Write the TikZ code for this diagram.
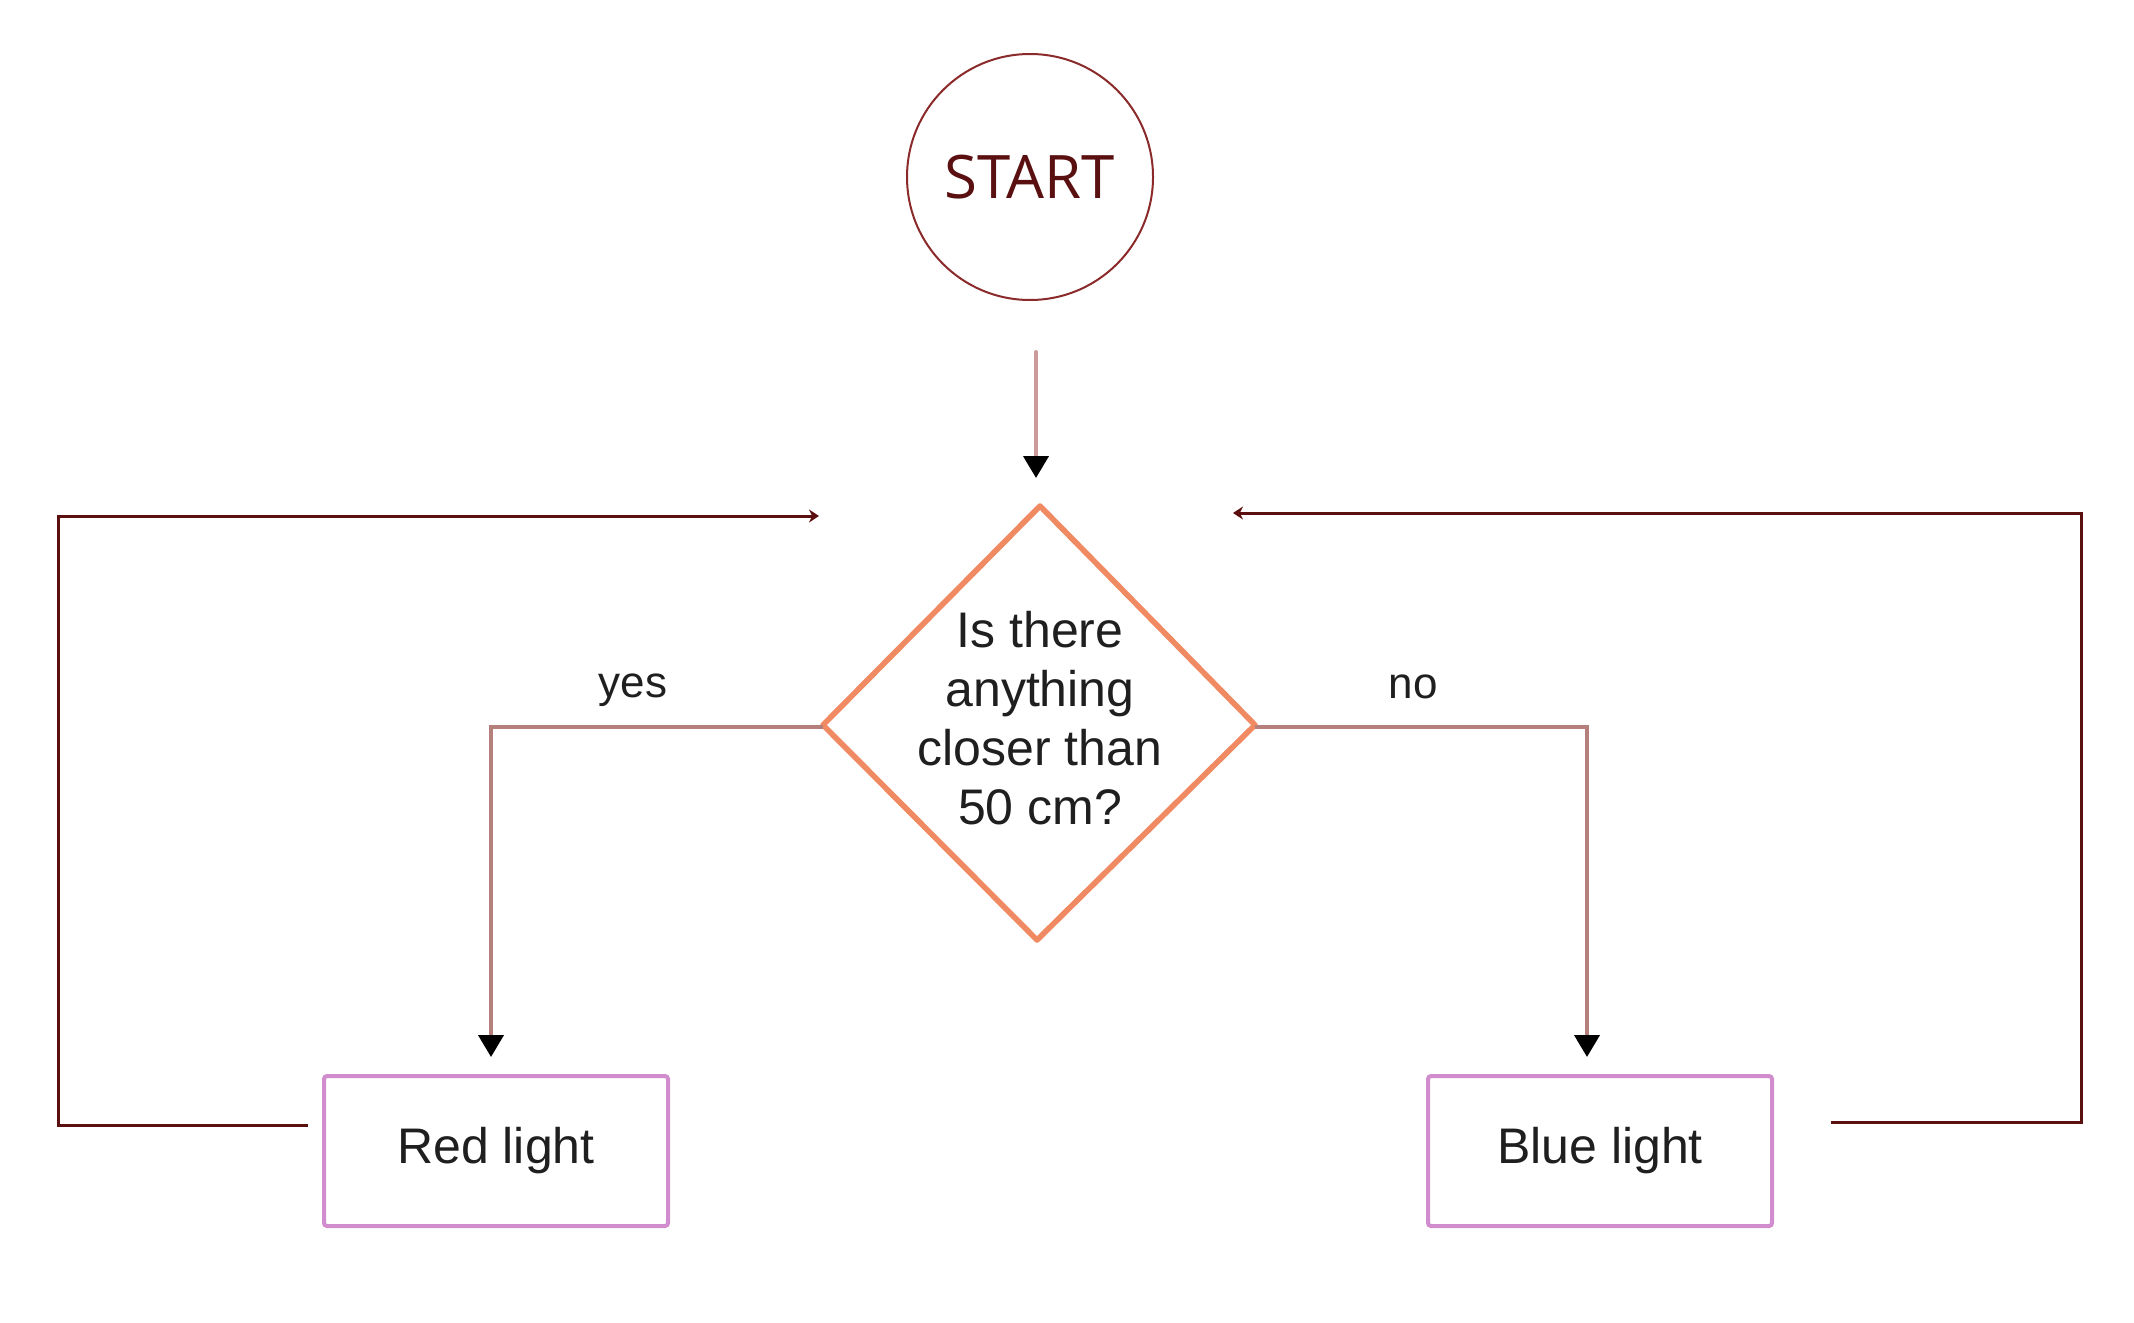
\documentclass[tikz,border=0pt]{standalone}
\usepackage{fontspec}
\setmainfont{Liberation Sans}
\newfontfamily\startfont{Open Sans}
\usetikzlibrary{arrows.meta}
\definecolor{circ}{HTML}{8B2A2A}
\definecolor{starttxt}{HTML}{5A1010}
\definecolor{loopc}{HTML}{5C0F0F}
\definecolor{branchc}{HTML}{B5807C}
\definecolor{startln}{HTML}{CC9A9A}
\definecolor{boxc}{HTML}{D08CCC}
\definecolor{diamc}{HTML}{EF8A62}
\definecolor{txt}{HTML}{1F1F1F}
\tikzset{
  startnode/.style={circle, draw=circ, line width=1pt, minimum size=123pt, inner sep=0pt,
    font=\startfont\fontsize{30}{36}\selectfont, text=starttxt},
  lightbox/.style={rectangle, rounded corners=1.5pt, draw=boxc, line width=2pt,
    minimum width=172pt, minimum height=75pt, inner sep=0pt,
    font=\fontsize{25}{30}\selectfont, text=txt},
  qtext/.style={align=center, inner sep=0pt, font=\fontsize{25}{29.5}\selectfont, text=txt},
  diam/.style={draw=diamc, line width=2.8pt, line join=round},
  lbl/.style={inner sep=0pt, font=\fontsize{22}{26}\selectfont, text=txt},
  blackhead/.style={-{Triangle[width=12.5pt,length=11pt,color=black]}},
  startarrow/.style={blackhead, draw=startln, line width=2pt, line cap=round},
  branch/.style={blackhead, draw=branchc, line width=2pt},
  loopline/.style={-{Stealth[width=6.5pt,length=5pt]}, draw=loopc, line width=1.5pt},
}
\begin{document}
\begin{tikzpicture}[x=0.5pt, y=-0.5pt]
\useasboundingbox (0,0) rectangle (2134,1322);
% nodes
\node[startnode] (start) at (1030,177) {START};
\coordinate (qt) at (1040,506);
\coordinate (qr) at (1255,725);
\coordinate (qb) at (1037,940);
\coordinate (ql) at (823,725);
\draw[diam] (qt) -- (qr) -- (qb) -- (ql) -- cycle;
\node[qtext] (q) at (1040,718) {Is there\\anything\\closer than\\50 cm?};
\node[lightbox] (red) at (496,1151) {\raisebox{-2pt}{Red light}};
\node[lightbox] (blue) at (1600,1151) {\raisebox{-2pt}{Blue light}};
\node[lbl] (yes) at (633,690) {yes};
\node[lbl] (no) at (1413,687) {no};
% start arrow
\coordinate (s0) at (1036,352);
\coordinate (s1) at (1036,478);
\draw[startarrow] (s0) -- (s1);
% branches
\coordinate (yc) at (491,727);
\coordinate (ytip) at (491,1057);
\coordinate (qlb) at (823,727);
\draw[branch] (qlb) -- (yc) -- (ytip);
\coordinate (nc) at (1587,727);
\coordinate (ntip) at (1587,1057);
\coordinate (qrb) at (1255,727);
\draw[branch] (qrb) -- (nc) -- (ntip);
% loops
\coordinate (l0) at (308,1125);
\coordinate (l1) at (58,1125);
\coordinate (l2) at (58,516);
\coordinate (l3) at (819,516);
\draw[loopline] (l0) -- (l1) -- (l2) -- (l3);
\coordinate (r0) at (1831,1122);
\coordinate (r1) at (2081,1122);
\coordinate (r2) at (2081,513);
\coordinate (r3) at (1233,513);
\draw[loopline] (r0) -- (r1) -- (r2) -- (r3);
\end{tikzpicture}
\end{document}
